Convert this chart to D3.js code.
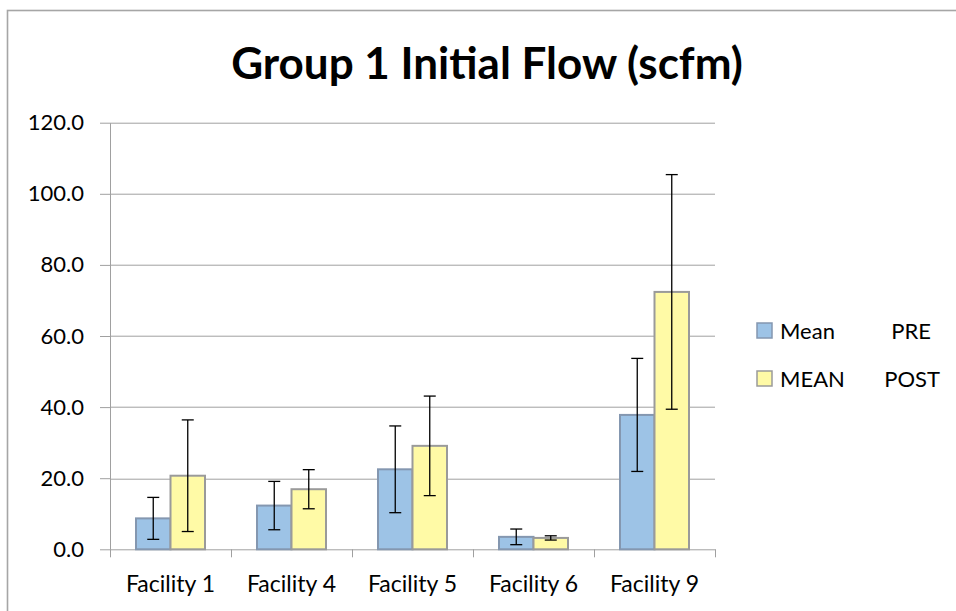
<!DOCTYPE html>
<html>
<head>
<meta charset="utf-8">
<script src="https://cdn.jsdelivr.net/npm/d3@7"></script>
<style>
  body { margin: 0; background: #fff; }
  svg { display: block; font-family: Lato, "Open Sans", sans-serif; }
</style>
</head>
<body>
<div id="chart"></div>
<script>
// data
const facilities = ["Facility 1", "Facility 4", "Facility 5", "Facility 6", "Facility 9"];
const seriesNames = ["Mean          PRE", "MEAN       POST"];
const meanPre = [8.7, 12.3, 22.5, 3.5, 37.8];
const errPre = [5.9, 6.8, 12.2, 2.2, 15.9];
const meanPost = [20.7, 16.9, 29.1, 3.2, 72.4];
const errPost = [15.7, 5.5, 14.0, 0.6, 33.0];
const yTicks = [0, 20, 40, 60, 80, 100, 120];
const titleText = "Group 1 Initial Flow (scfm)";

const fills = ["#9dc3e6", "#fffaa6"];
const strokes = ["#8497b0", "#9a9a9a"];

const width = 956, height = 611;
const margin = {top: 122.7, left: 110, right: 241, bottom: 61.7};
const plotW = width - margin.left - margin.right;
const plotH = height - margin.top - margin.bottom;

const svg = d3.select("#chart").append("svg")
    .attr("width", width)
    .attr("height", height);

// outer chart border (right and bottom run off the image)
svg.append("rect")
    .attr("x", 7.5).attr("y", 10.5)
    .attr("width", width + 20).attr("height", height + 20)
    .attr("fill", "none")
    .attr("stroke", "#a6a6a6")
    .attr("stroke-width", 1.6);

// title
svg.append("text")
    .attr("x", 487).attr("y", 79)
    .attr("text-anchor", "middle")
    .attr("font-weight", 700)
    .attr("font-size", "44px")
    .attr("fill", "#000")
    .text(titleText);

const g = svg.append("g")
    .attr("transform", `translate(${margin.left},${margin.top})`);

// scales
const x0 = d3.scaleBand().domain(facilities).range([0, plotW]).paddingInner(0).paddingOuter(0);
const x1 = d3.scaleBand().domain([0, 1]).range([26, x0.bandwidth() - 26]);
const y = d3.scaleLinear().domain([0, 120]).range([plotH, 0]);

// gridlines
g.append("g").selectAll("line")
    .data(yTicks.filter(d => d > 0))
    .join("line")
    .attr("x1", 0).attr("x2", plotW)
    .attr("y1", d => Math.round(y(d)) + 0.5).attr("y2", d => Math.round(y(d)) + 0.5)
    .attr("stroke", "#a0a0a0")
    .attr("stroke-width", 1);

// y axis
const yAxis = g.append("g")
    .call(d3.axisLeft(y).tickValues(yTicks).tickSize(10).tickSizeOuter(0).tickFormat(d3.format(".1f")));
yAxis.select(".domain").attr("stroke", "#a0a0a0");
yAxis.selectAll(".tick line").attr("stroke", "#a0a0a0");
yAxis.selectAll(".tick text")
    .attr("x", -26)
    .attr("font-family", "Lato, sans-serif")
    .attr("font-size", "22px")
    .attr("fill", "#000");

// x axis
const xAxis = g.append("g")
    .attr("transform", `translate(0,${plotH})`)
    .call(d3.axisBottom(x0).tickSize(0).tickSizeOuter(0));
xAxis.select(".domain").attr("stroke", "#a0a0a0");
xAxis.selectAll(".tick text")
    .attr("y", 43)
    .attr("dy", 0)
    .attr("font-family", "Lato, sans-serif")
    .attr("font-size", "23px")
    .attr("fill", "#000");

// category boundary ticks
g.append("g").selectAll("line")
    .data(facilities.map((d, i) => i).concat([facilities.length]))
    .join("line")
    .attr("x1", i => Math.round(i * x0.step()) + 0.5)
    .attr("x2", i => Math.round(i * x0.step()) + 0.5)
    .attr("y1", plotH).attr("y2", plotH + 8)
    .attr("stroke", "#a0a0a0");

// bars
const rows = facilities.map((f, i) => ({
    f: f,
    vals: [
        {s: 0, v: meanPre[i], e: errPre[i]},
        {s: 1, v: meanPost[i], e: errPost[i]}
    ]
}));

const groups = g.append("g").selectAll("g")
    .data(rows)
    .join("g")
    .attr("transform", d => `translate(${x0(d.f)},0)`);

groups.selectAll("rect")
    .data(d => d.vals)
    .join("rect")
    .attr("x", d => x1(d.s))
    .attr("y", d => y(d.v))
    .attr("width", x1.bandwidth())
    .attr("height", d => plotH - y(d.v))
    .attr("fill", d => fills[d.s])
    .attr("stroke", d => strokes[d.s])
    .attr("stroke-width", 2);

// error bars
const err = groups.selectAll("g.err")
    .data(d => d.vals)
    .join("g")
    .attr("class", "err")
    .attr("transform", d => `translate(${x1(d.s) + x1.bandwidth() / 2},0)`);

err.append("line")
    .attr("y1", d => y(d.v + d.e)).attr("y2", d => y(d.v - d.e))
    .attr("stroke", "#000").attr("stroke-width", 1.3);
err.append("line")
    .attr("x1", -6).attr("x2", 6)
    .attr("y1", d => y(d.v + d.e)).attr("y2", d => y(d.v + d.e))
    .attr("stroke", "#000").attr("stroke-width", 1.3);
err.append("line")
    .attr("x1", -6).attr("x2", 6)
    .attr("y1", d => y(d.v - d.e)).attr("y2", d => y(d.v - d.e))
    .attr("stroke", "#000").attr("stroke-width", 1.3);

// legend
const legend = svg.append("g")
    .attr("transform", "translate(757,323)");
const li = legend.selectAll("g")
    .data(seriesNames)
    .join("g")
    .attr("transform", (d, i) => `translate(0,${i * 48})`);
li.append("rect")
    .attr("width", 15).attr("height", 15)
    .attr("fill", (d, i) => fills[i])
    .attr("stroke", (d, i) => strokes[i])
    .attr("stroke-width", 1.5);
li.append("text")
    .attr("x", 23).attr("y", 8)
    .attr("dy", "0.35em")
    .attr("font-size", "22px")
    .style("white-space", "pre")
    .attr("fill", "#000")
    .text(d => d);
</script>
</body>
</html>
